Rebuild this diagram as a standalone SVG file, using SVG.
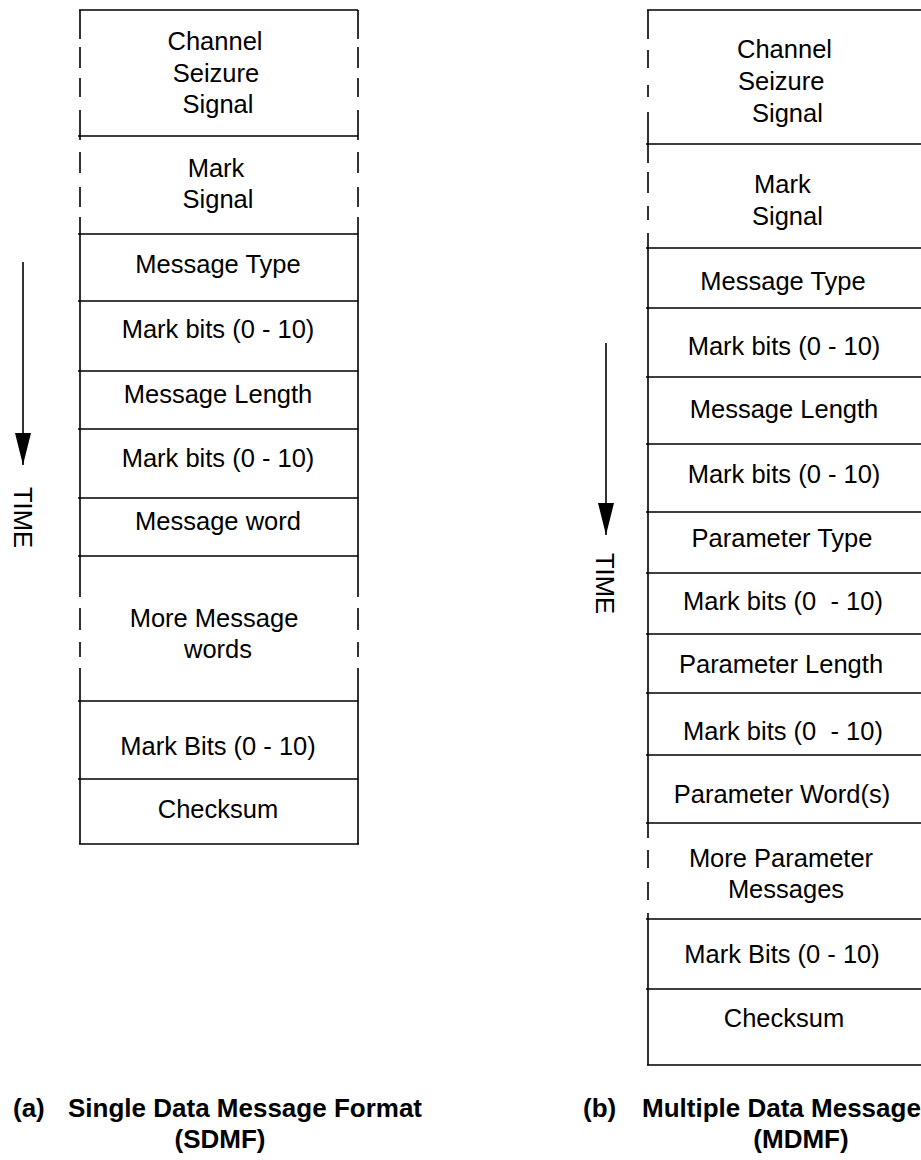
<svg xmlns="http://www.w3.org/2000/svg" width="921" height="1160" viewBox="0 0 921 1160">
<defs>
<style>
.ln{stroke:#000;stroke-width:1.6;fill:none}
.t{font-family:"Liberation Sans",Arial,sans-serif;font-size:25.5px;fill:#000;text-anchor:middle}
.ts{font-family:"Liberation Sans",Arial,sans-serif;font-size:25.5px;fill:#000}
.cap{font-family:"Liberation Sans",Arial,sans-serif;font-size:26px;font-weight:bold;fill:#000}
</style>
<marker id="ah" markerUnits="userSpaceOnUse" markerWidth="32" markerHeight="16" refX="32" refY="8" orient="auto" viewBox="0 0 32 16">
<path d="M0,0 L32,8 L0,16 Z" fill="#000"/>
</marker>
</defs>
<rect width="921" height="1160" fill="#fff"/>

<!-- (a) SDMF column -->
<g id="sdmf-channel-seizure">
<path class="ln" d="M79,10 H358 M80,10 V39 M80,47 V68 M80,78 V97 M80,110 V136 M358,10 V39 M358,47 V68 M358,78 V97 M358,110 V136"/>
<text class="t" x="215" y="50">Channel</text>
<text class="t" x="216" y="82">Seizure</text>
<text class="t" x="218" y="113">Signal</text>
</g>
<g id="sdmf-mark-signal">
<path class="ln" d="M78,136 H358 M80,136 V140 M80,152 V173 M80,187 V207 M80,217 V234 M358,136 V140 M358,152 V173 M358,187 V207 M358,217 V234"/>
<text class="t" x="216" y="177">Mark</text>
<text class="t" x="218" y="208">Signal</text>
</g>
<g id="sdmf-message-type">
<path class="ln" d="M78,234 H358 M80,234 V301 M358,234 V301"/>
<text class="t" x="218" y="273">Message Type</text>
</g>
<g id="sdmf-mark-bits-1">
<path class="ln" d="M78,301 H358 M80,301 V371 M358,301 V371"/>
<text class="t" x="218" y="338">Mark bits (0 - 10)</text>
</g>
<g id="sdmf-message-length">
<path class="ln" d="M78,371 H358 M80,371 V429 M358,371 V429"/>
<text class="t" x="218" y="403">Message Length</text>
</g>
<g id="sdmf-mark-bits-2">
<path class="ln" d="M78,429 H358 M80,429 V498 M358,429 V498"/>
<text class="t" x="218" y="467">Mark bits (0 - 10)</text>
</g>
<g id="sdmf-message-word">
<path class="ln" d="M78,498 H358 M80,498 V556 M358,498 V556"/>
<text class="t" x="218" y="530">Message word</text>
</g>
<g id="sdmf-more-words">
<path class="ln" d="M78,556 H358 M80,556 V597 M80,608 V630 M80,642 V657 M80,668 V701 M358,556 V597 M358,608 V630 M358,642 V657 M358,668 V701"/>
<text class="t" x="214" y="627">More Message</text>
<text class="t" x="218" y="658">words</text>
</g>
<g id="sdmf-mark-bits-3">
<path class="ln" d="M78,701 H358 M80,701 V779 M358,701 V779"/>
<text class="t" x="218" y="755">Mark Bits (0 - 10)</text>
</g>
<g id="sdmf-checksum">
<path class="ln" d="M78,779 H358 M80,779 V844 M358,779 V844 M79,844 H359"/>
<text class="t" x="218" y="818">Checksum</text>
</g>

<!-- (b) MDMF column -->
<g id="mdmf-channel-seizure">
<path class="ln" d="M647,10 H926 M648,10 V39 M648,50 V68 M648,85 V97 M648,112 V144"/>
<text class="ts" x="737" y="58">Channel</text>
<text class="ts" x="738" y="90">Seizure</text>
<text class="ts" x="752" y="122">Signal</text>
</g>
<g id="mdmf-mark-signal">
<path class="ln" d="M646,144 H926 M648,144 V163 M648,172 V193 M648,206 V220 M648,233 V248"/>
<text class="ts" x="754" y="193">Mark</text>
<text class="ts" x="752" y="225">Signal</text>
</g>
<g id="mdmf-message-type">
<path class="ln" d="M646,248 H926 M648,248 V308"/>
<text class="t" x="783" y="290">Message Type</text>
</g>
<g id="mdmf-mark-bits-1">
<path class="ln" d="M646,308 H926 M648,308 V377"/>
<text class="t" x="784" y="355">Mark bits (0 - 10)</text>
</g>
<g id="mdmf-message-length">
<path class="ln" d="M646,377 H926 M648,377 V444"/>
<text class="t" x="784" y="418">Message Length</text>
</g>
<g id="mdmf-mark-bits-2">
<path class="ln" d="M646,444 H926 M648,444 V512"/>
<text class="t" x="784" y="483">Mark bits (0 - 10)</text>
</g>
<g id="mdmf-parameter-type">
<path class="ln" d="M646,512 H926 M648,512 V573"/>
<text class="t" x="782" y="547">Parameter Type</text>
</g>
<g id="mdmf-mark-bits-3">
<path class="ln" d="M646,573 H926 M648,573 V634"/>
<text class="t" x="783" y="610" xml:space="preserve">Mark bits (0  - 10)</text>
</g>
<g id="mdmf-parameter-length">
<path class="ln" d="M646,634 H926 M648,634 V693"/>
<text class="t" x="781" y="673">Parameter Length</text>
</g>
<g id="mdmf-mark-bits-4">
<path class="ln" d="M646,693 H926 M648,693 V755"/>
<text class="t" x="783" y="740" xml:space="preserve">Mark bits (0  - 10)</text>
</g>
<g id="mdmf-parameter-words">
<path class="ln" d="M646,755 H926 M648,755 V823"/>
<text class="t" x="782" y="803">Parameter Word(s)</text>
</g>
<g id="mdmf-more-parameter">
<path class="ln" d="M646,823 H926 M648,823 V838 M648,850 V868 M648,882 V900 M648,913 V919"/>
<text class="t" x="781" y="867">More Parameter</text>
<text class="t" x="786" y="898">Messages</text>
</g>
<g id="mdmf-mark-bits-5">
<path class="ln" d="M646,919 H926 M648,919 V989"/>
<text class="t" x="782" y="963">Mark Bits (0 - 10)</text>
</g>
<g id="mdmf-checksum">
<path class="ln" d="M646,989 H926 M648,989 V1065 M647,1065 H926"/>
<text class="t" x="784" y="1027">Checksum</text>
</g>

<!-- time arrows -->
<g id="connectors">
<line class="ln" x1="23" y1="262" x2="23" y2="465" marker-end="url(#ah)"/>
<line class="ln" x1="606" y1="343" x2="606" y2="535" marker-end="url(#ah)"/>
</g>
<g id="time-labels">
<text class="ts" transform="translate(14,487) rotate(90)">TIME</text>
<text class="ts" transform="translate(596,553) rotate(90)">TIME</text>
</g>

<!-- captions -->
<g id="caption-a">
<text class="cap" y="1117"><tspan x="13">(a)</tspan><tspan x="68">Single Data Message Format</tspan></text>
<text class="cap" x="220" y="1148" text-anchor="middle">(SDMF)</text>
</g>
<g id="caption-b">
<text class="cap" y="1117"><tspan x="583">(b)</tspan><tspan x="642">Multiple Data Message</tspan></text>
<text class="cap" x="801" y="1148" text-anchor="middle">(MDMF)</text>
</g>
</svg>
